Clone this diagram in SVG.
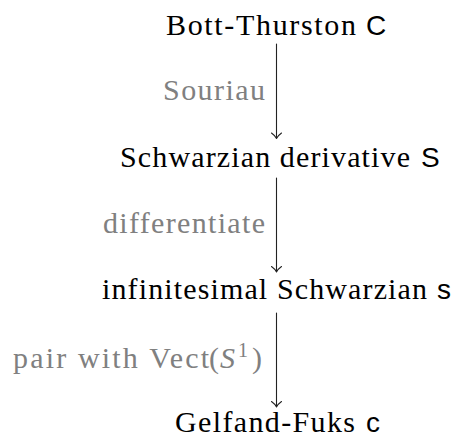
<svg xmlns="http://www.w3.org/2000/svg" width="452" height="439" viewBox="0 0 452 439">
<style>
.m{font-family:"Liberation Serif","DejaVu Serif",serif;font-size:30px;fill:#000}
.sf{font-family:"Liberation Sans","DejaVu Sans",sans-serif;font-size:28px;fill:#000}
.lb{font-family:"Liberation Serif","DejaVu Serif",serif;font-size:30px;fill:#808080}
.ar{stroke:#222;stroke-width:1.1;fill:none;stroke-linecap:round;stroke-linejoin:round}
</style>
<rect width="452" height="439" fill="#fff"/>
<g id="n1">
<text class="m" x="166" y="35" textLength="190">Bott-Thurston</text>
<text class="sf" x="366" y="35">C</text>
</g>
<g id="n2">
<text class="m" x="120" y="167" textLength="290">Schwarzian derivative</text>
<text class="sf" x="421" y="167">S</text>
</g>
<g id="n3">
<text class="m" x="102" y="299" textLength="325">infinitesimal Schwarzian</text>
<text class="sf" x="437" y="299">s</text>
</g>
<g id="n4">
<text class="m" x="175" y="432" textLength="180">Gelfand-Fuks</text>
<text class="sf" x="366" y="432">c</text>
</g>
<g id="connectors">
<path class="ar" d="M276.5,44 V138.5 M271.5,133 Q275,135.5 276.5,138.5 Q278,135.5 281.5,133"/>
<path class="ar" d="M276.5,178 V272 M271.5,266.5 Q275,269 276.5,272 Q278,269 281.5,266.5"/>
<path class="ar" d="M276.5,313 V407 M271.5,401.5 Q275,404 276.5,407 Q278,404 281.5,401.5"/>
<text class="lb" x="163" y="100" textLength="102">Souriau</text>
<text class="lb" x="103" y="233" textLength="162">differentiate</text>
<text class="lb" y="368"><tspan x="13" textLength="196">pair with Vect</tspan><tspan x="209">(</tspan><tspan x="220" font-style="italic">S</tspan><tspan x="238" y="357" font-size="20">1</tspan><tspan x="252" y="368">)</tspan></text>
</g>
</svg>
